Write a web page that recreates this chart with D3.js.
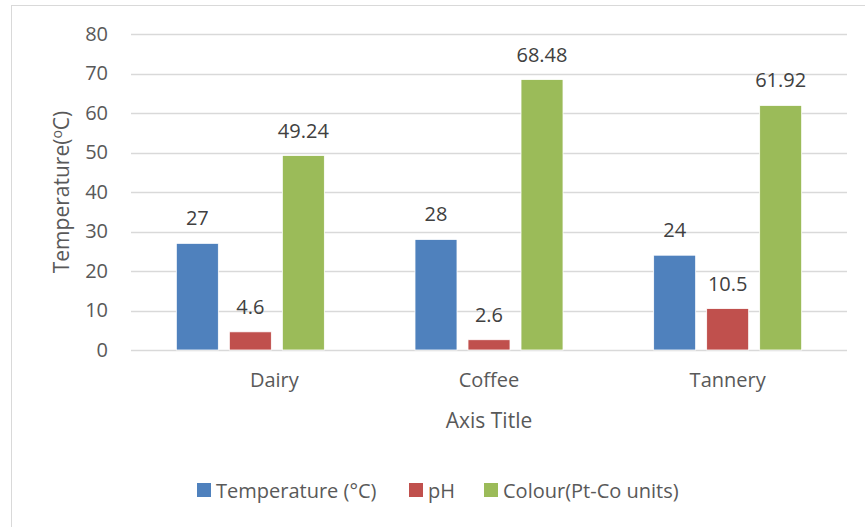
<!DOCTYPE html>
<html>
<head>
<meta charset="utf-8">
<script src="https://cdn.jsdelivr.net/npm/d3@7"></script>
<style>
  body { margin: 0; background: #fff; }
  text { font-family: "Open Sans", "Noto Sans", sans-serif; }
</style>
</head>
<body>
<svg id="chart" width="865" height="527"></svg>
<script>
const categories = ["Dairy", "Coffee", "Tannery"];
const seriesNames = ["Temperature (°C)", "pH", "Colour(Pt-Co units)"];
const temperature = [27, 28, 24];
const ph = [4.6, 2.6, 10.5];
const colour = [49.24, 68.48, 61.92];
const yTicks = [0, 10, 20, 30, 40, 50, 60, 70, 80];
const colors = ["#4F81BD", "#C0504D", "#9BBB59"];

const seriesValues = [temperature, ph, colour];

const svg = d3.select("#chart");

// chart border
svg.append("rect")
  .attr("x", 11.5).attr("y", 5.5)
  .attr("width", 870).attr("height", 540)
  .attr("fill", "#fff").attr("stroke", "#d9d9d9").attr("stroke-width", 1);

const plot = { left: 131, right: 847, top: 34, bottom: 350 };

const x0 = d3.scaleBand().domain(categories).range([plot.left, plot.right]).padding(0);
const x1 = d3.scaleBand().domain(seriesNames).range([0, x0.bandwidth()])
  .paddingInner(0.2075).paddingOuter(0.855);
const y = d3.scaleLinear().domain([0, 80]).range([plot.bottom, plot.top]);

// gridlines
svg.append("g").selectAll("line").data(yTicks).join("line")
  .attr("x1", plot.left).attr("x2", plot.right)
  .attr("y1", d => Math.round(y(d)) + 0.5).attr("y2", d => Math.round(y(d)) + 0.5)
  .attr("stroke", "#d9d9d9").attr("stroke-width", 1.3);

// y axis labels
const yAxis = d3.axisLeft(y).tickValues(yTicks).tickSize(0).tickPadding(0);
const gy = svg.append("g").attr("transform", `translate(108,0)`).call(yAxis);
gy.select(".domain").remove();
gy.selectAll("text").attr("font-size", 20).attr("fill", "#595959")
  .attr("font-family", '"Open Sans", sans-serif');

// bars
const groups = svg.append("g").selectAll("g").data(categories).join("g")
  .attr("transform", d => `translate(${x0(d)},0)`);

groups.selectAll("rect").data((c, i) => seriesNames.map((s, k) => ({ s, k, v: seriesValues[k][i] })))
  .join("rect")
  .attr("x", d => x1(d.s))
  .attr("width", x1.bandwidth())
  .attr("y", d => y(d.v))
  .attr("height", d => y(0) - y(d.v))
  .attr("fill", d => colors[d.k])
  .attr("stroke", "#ffffff").attr("stroke-width", 0.8);

groups.selectAll("text.lbl").data((c, i) => seriesNames.map((s, k) => ({ s, k, v: seriesValues[k][i] })))
  .join("text").attr("class", "lbl")
  .attr("x", d => x1(d.s) + x1.bandwidth() / 2)
  .attr("y", d => y(d.v) - 18)
  .attr("text-anchor", "middle")
  .attr("font-size", 20).attr("fill", "#404040")
  .text(d => d.v);

// x axis categories
const xAxis = d3.axisBottom(x0).tickSize(0).tickPadding(0);
const gx = svg.append("g").attr("transform", `translate(0,${plot.bottom})`).call(xAxis);
gx.select(".domain").remove();
gx.selectAll("text").attr("font-size", 20).attr("fill", "#595959")
  .attr("font-family", '"Open Sans", sans-serif')
  .attr("y", 37).attr("dy", 0)
  .attr("dx", (d, i) => i === 0 ? 24 : 0);

// axis titles
svg.append("text")
  .attr("x", (plot.left + plot.right) / 2).attr("y", 428)
  .attr("text-anchor", "middle").attr("font-size", 21).attr("fill", "#595959")
  .text("Axis Title");

const yt = svg.append("text")
  .attr("transform", `translate(69,${(plot.top + plot.bottom) / 2}) rotate(-90)`)
  .attr("text-anchor", "middle").attr("font-size", 21).attr("fill", "#595959");
yt.append("tspan").text("Temperature(");
yt.append("tspan").attr("font-size", 14).attr("dy", -7).text("o");
yt.append("tspan").attr("dy", 7).text("C)");

// legend
const legendX = [197, 409, 484];
const leg = svg.append("g").selectAll("g").data(seriesNames).join("g")
  .attr("transform", (d, i) => `translate(${legendX[i]},483)`);
leg.append("rect").attr("width", 14).attr("height", 14).attr("fill", (d, i) => colors[i]);
leg.append("text").attr("x", 19).attr("y", 14.5)
  .attr("font-size", 20).attr("fill", "#595959").text(d => d);
</script>
</body>
</html>
